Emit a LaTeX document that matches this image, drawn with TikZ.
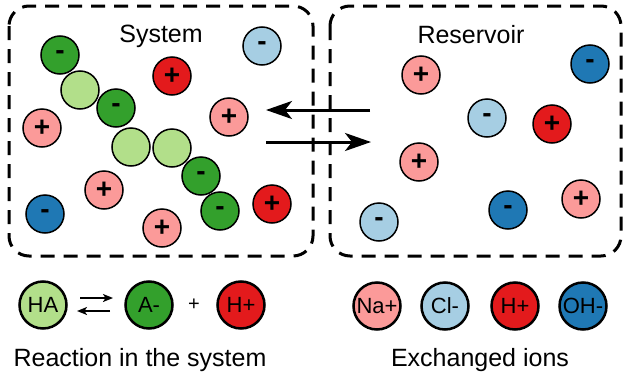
\documentclass[tikz,border=0pt]{standalone}
\usepackage{fontspec}
\setmainfont{Liberation Sans}
\usetikzlibrary{arrows.meta}
\definecolor{pinkc}{HTML}{FB9A99}
\definecolor{redc}{HTML}{E31A1C}
\definecolor{lblue}{HTML}{A6CEE3}
\definecolor{dblue}{HTML}{1F78B4}
\definecolor{lgreen}{HTML}{B2DF8A}
\definecolor{dgreen}{HTML}{33A02C}
\tikzset{
  ion/.style={circle, draw=black, line width=1.5pt, minimum size=38pt, inner sep=0pt,
    font=\bfseries\fontsize{28}{28}\selectfont},
  leg/.style={circle, draw=black, line width=2.5pt, minimum size=47pt, inner sep=0pt,
    font=\fontsize{22}{22}\selectfont},
  bigtext/.style={anchor=base, font=\fontsize{25}{25}\selectfont},
  boxline/.style={line width=3pt, dash pattern=on 14pt off 9pt, rounded corners=20pt},
  flow/.style={line width=3pt, -{Stealth[length=26pt,width=18pt,inset=7pt]}},
  eq/.style={line width=1.6pt, -{Stealth[length=10pt,width=8pt,inset=2.5pt]}}
}
\begin{document}
\begin{tikzpicture}[x=1pt,y=-1pt]
\useasboundingbox (0,0) rectangle (624,375);
% boxes
\draw[boxline] (9,6) rectangle (313,256);
\draw[boxline] (330,6) rectangle (621,256);
\node[bigtext] (systxt) at (161,42) {System};
\node[bigtext] (restxt) at (471,43) {Reservoir};
% chain in the system
\node[ion, fill=dgreen] (c1) at (60,55) {-};
\node[ion, fill=lgreen] (c2) at (80,90) {};
\node[ion, fill=dgreen] (c3) at (116,108) {-};
\node[ion, fill=lgreen] (c4) at (131,147) {};
\node[ion, fill=lgreen] (c5) at (172,148) {};
\node[ion, fill=dgreen] (c6) at (201,176) {-};
\node[ion, fill=dgreen] (c7) at (220,211) {-};
% ions in the system
\node[ion, fill=redc] (s1) at (172,76) {+};
\node[ion, fill=lblue] (s2) at (262,46) {-};
\node[ion, fill=pinkc] (s3) at (229,117) {+};
\node[ion, fill=pinkc] (s4) at (42,128) {+};
\node[ion, fill=pinkc] (s5) at (104,190) {+};
\node[ion, fill=dblue] (s6) at (45,214) {-};
\node[ion, fill=pinkc] (s7) at (162,228) {+};
\node[ion, fill=redc] (s8) at (272,204) {+};
% ions in the reservoir
\node[ion, fill=pinkc] (r1) at (421,75) {+};
\node[ion, fill=dblue] (r2) at (590,64) {-};
\node[ion, fill=lblue] (r3) at (487,118) {-};
\node[ion, fill=redc] (r4) at (552,124) {+};
\node[ion, fill=pinkc] (r5) at (419,162) {+};
\node[ion, fill=lblue] (r6) at (379,222) {-};
\node[ion, fill=dblue] (r7) at (508,210) {-};
\node[ion, fill=pinkc] (r8) at (581,199) {+};
% exchange arrows
\coordinate (a1s) at (370,110);
\coordinate (a1e) at (266,110);
\coordinate (a2s) at (266,142);
\coordinate (a2e) at (371,142);
\draw[flow] (a1s) -- (a1e);
\draw[flow] (a2s) -- (a2e);
% legend: reaction
\node[leg, fill=lgreen] (ha) at (43,305) {HA};
\node[leg, fill=dgreen] (am) at (149,305) {A-};
\node[font=\fontsize{20}{20}\selectfont] (plus) at (194,305) {+};
\node[leg, fill=redc] (hp) at (241,305) {H+};
\coordinate (e1s) at (80,298);
\coordinate (e1e) at (113,298);
\coordinate (e2s) at (110,311);
\coordinate (e2e) at (77,311);
\draw[eq] (e1s) -- (e1e);
\draw[eq] (e2s) -- (e2e);
\node[bigtext] (reac) at (140,366) {Reaction in the system};
% legend: exchanged ions
\node[leg, fill=pinkc] (na) at (377,306) {Na+};
\node[leg, fill=lblue] (cl) at (445,306) {Cl-};
\node[leg, fill=redc] (hp2) at (515,306) {H+};
\node[leg, fill=dblue] (oh) at (583,306) {OH-};
\node[bigtext] (exch) at (480,366) {Exchanged ions};
\end{tikzpicture}
\end{document}
